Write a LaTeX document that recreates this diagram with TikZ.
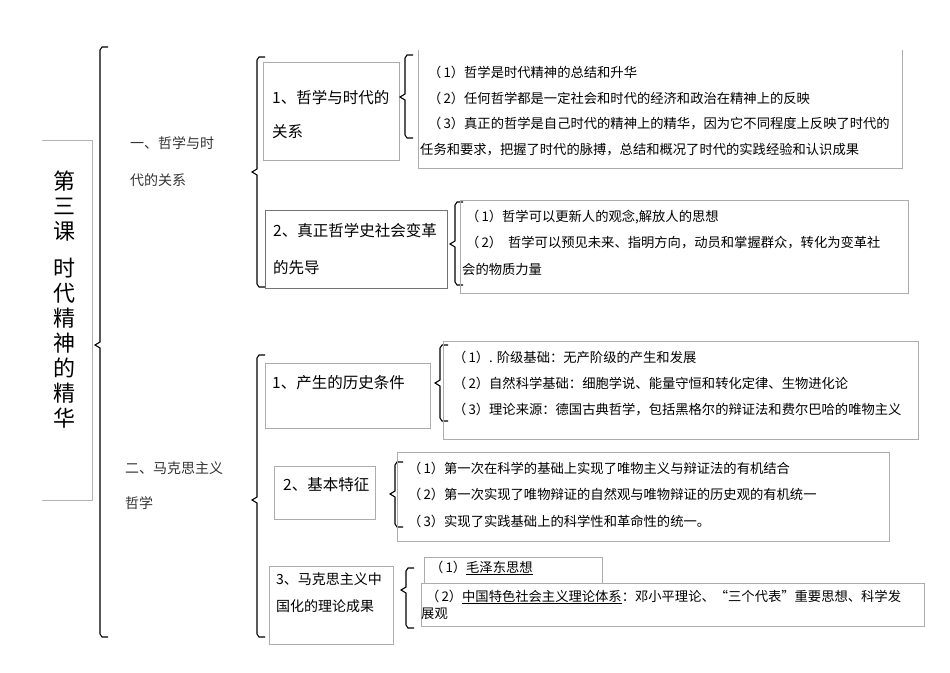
\documentclass[tikz,border=0pt]{standalone}
\usepackage{fontspec}
\setmainfont{Noto Sans CJK SC}
\begin{document}
\begin{tikzpicture}[x=1pt,y=-1pt,
  box/.style={draw=gray!65,line width=0.6pt,anchor=north west,inner sep=0pt},
  dbox/.style={draw=gray!90!black,line width=0.7pt,anchor=north west,inner sep=0pt},
  tl/.style={anchor=west,inner sep=0pt,font=\fontsize{13.3}{15}\selectfont},
  hl/.style={anchor=west,inner sep=0pt,font=\fontsize{15.5}{17}\selectfont},
  sl/.style={anchor=west,inner sep=0pt,font=\fontsize{14}{16}\selectfont,text=black!80},
  brk/.style={line width=1.1pt,black}]
\useasboundingbox (0,0) rectangle (950,672);
\newcommand\brak[4]{\draw[brk] (#1+8,#2) -- (#1+2,#2) -- (#1,#2+3) -- (#1,#4-3) -- (#1-5,#4) -- (#1,#4+3) -- (#1,#3-3) -- (#1+2,#3) -- (#1+8,#3);}
\newcommand\lp{（\hspace{2pt}}
% main title box (open left)
\draw[gray!60,line width=0.6pt] (42,140) -- (92,140) -- (92,500) -- (42,500);
\node[inner sep=0pt,font=\fontsize{22}{25}\selectfont,align=center] (title) at (64,300) {第\\三\\课\\[12pt]时\\代\\精\\神\\的\\精\\华};
\brak{100}{47}{637}{345}
\node[sl] (s1a) at (130,143) {一、哲学与时};
\node[sl] (s1b) at (130,180) {代的关系};
\node[sl] (s2a) at (125,468) {二、马克思主义};
\node[sl] (s2b) at (125,503) {哲学};
% section 1
\brak{257}{57}{287}{172}
\node[box,minimum width=136pt,minimum height=98pt] (b11) at (263,62) {};
\node[hl] (t11a) at (272,98) {1、哲学与时代的};
\node[hl] (t11b) at (272,132) {关系};
\brak{405}{55}{138}{97}
\draw[gray!65,line width=0.6pt] (418,50) -- (418,168) -- (902,168) -- (902,50);
\node[tl] (p1) at (428,72) {\lp1）哲学是时代精神的总结和升华};
\node[tl] (p2) at (428,98) {\lp2）任何哲学都是一定社会和时代的经济和政治在精神上的反映};
\node[tl] (p3) at (428,124) {\lp3）真正的哲学是自己时代的精神上的精华，因为它不同程度上反映了时代的};
\node[tl] (p4) at (420,150) {任务和要求，把握了时代的脉搏，总结和概况了时代的实践经验和认识成果};
\node[dbox,minimum width=182pt,minimum height=78pt] (b12) at (265,210) {};
\node[hl] (t12a) at (273,231) {2、真正哲学史社会变革};
\node[hl] (t12b) at (273,268) {的先导};
\brak{455}{202}{285}{244}
\node[box,minimum width=448pt,minimum height=93pt] (tb12) at (460,200) {};
\node[tl] (q1) at (466,217) {\lp1）哲学可以更新人的观念,解放人的思想};
\node[tl] (q2) at (466,243) {\lp2）\ \ 哲学可以预见未来、指明方向，动员和掌握群众，转化为变革社};
\node[tl] (q3) at (462,269) {会的物质力量};
% section 2
\brak{257}{355}{637}{500}
\node[box,minimum width=165pt,minimum height=65pt] (b21) at (265,363) {};
\node[hl] (t21) at (272,383) {1、产生的历史条件};
\brak{440}{345}{421}{383}
\node[box,minimum width=475pt,minimum height=98pt] (tb21) at (443,341) {};
\node[tl] (r1) at (453,357) {\lp1）. 阶级基础：无产阶级的产生和发展};
\node[tl] (r2) at (453,383) {\lp2）自然科学基础：细胞学说、能量守恒和转化定律、生物进化论};
\node[tl] (r3) at (453,410) {\lp3）理论来源：德国古典哲学，包括黑格尔的辩证法和费尔巴哈的唯物主义};
\node[box,minimum width=101pt,minimum height=53pt] (b22) at (274,466) {};
\node[hl] (t22) at (283,485) {2、基本特征};
\brak{395}{462}{527}{494}
\node[box,minimum width=492pt,minimum height=89pt] (tb22) at (397,452) {};
\node[tl] (u1) at (408,468) {\lp1）第一次在科学的基础上实现了唯物主义与辩证法的有机结合};
\node[tl] (u2) at (408,494) {\lp2）第一次实现了唯物辩证的自然观与唯物辩证的历史观的有机统一};
\node[tl] (u3) at (408,521) {\lp3）实现了实践基础上的科学性和革命性的统一。};
\node[box,minimum width=124pt,minimum height=78pt] (b23) at (269,566) {};
\node[tl,font=\fontsize{14}{15}\selectfont] (t23a) at (276,579) {3、马克思主义中};
\node[tl,font=\fontsize{14}{15}\selectfont] (t23b) at (276,606) {国化的理论成果};
\brak{406}{568}{628}{590}
\draw[gray!65,line width=0.6pt] (424,583) -- (424,557) -- (602,557) -- (602,583);
\node[box,minimum width=503pt,minimum height=43pt] (tb23) at (421,583) {};
\node[tl] (v1) at (430,568) {\lp1）\underline{毛泽东思想}};
\node[tl] (v2) at (426,597) {\lp2）\underline{中国特色社会主义理论体系}：邓小平理论、“三个代表”重要思想、科学发};
\node[tl] (v3) at (421,614) {展观};
\end{tikzpicture}
\end{document}
